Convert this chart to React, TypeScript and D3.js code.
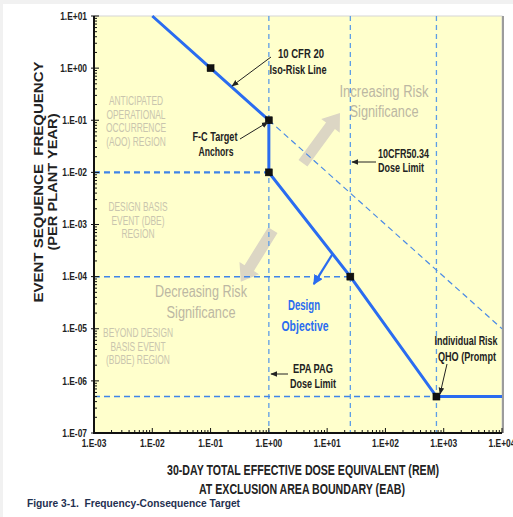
import React from "react";
import * as d3 from "d3";

// frequency-consequence target
const xTickLabels = ["1.E-03", "1.E-02", "1.E-01", "1.E+00", "1.E+01", "1.E+02", "1.E+03", "1.E+04"];
const yTickLabels = ["1.E+01", "1.E+00", "1.E-01", "1.E-02", "1.E-03", "1.E-04", "1.E-05", "1.E-06", "1.E-07"];
const xTickValues = [1e-3, 1e-2, 1e-1, 1, 1e1, 1e2, 1e3, 1e4];
const yTickValues = [1e1, 1, 1e-1, 1e-2, 1e-3, 1e-4, 1e-5, 1e-6, 1e-7];

const targetDose = [0.01, 0.1, 1, 1, 25, 750, 1e4];
const targetFreq = [10, 1, 0.1, 0.01, 1e-4, 5e-7, 5e-7];

const anchorDose = [0.1, 1, 1, 25, 750];
const anchorFreq = [1, 0.1, 0.01, 1e-4, 5e-7];

const isoDose = [1, 1e4];
const isoFreq = [0.1, 1e-5];

const doseLimits = [1, 25, 750];
const freqLimits = [0.01, 1e-4, 5e-7];
const freqLimitEnds = [1, 25, 750];

const sans = "'Liberation Sans', Arial, sans-serif";

const W = 513;
const H = 517;
const x = d3.scaleLog().domain([1e-3, 1e4]).range([94, 502]);
const y = d3.scaleLog().domain([1e-7, 1e1]).range([433, 16]);

const line = d3
  .line<[number, number]>()
  .x((d) => x(d[0]))
  .y((d) => y(d[1]));

function fatArrow(d0: number, f0: number, d1: number, f1: number, shaft: number, head: number, headLen: number) {
  const x0 = x(d0), y0 = y(f0), x1 = x(d1), y1 = y(f1);
  const len = Math.hypot(x1 - x0, y1 - y0);
  const ux = (x1 - x0) / len, uy = (y1 - y0) / len;
  const px = -uy, py = ux;
  const bx = x1 - ux * headLen, by = y1 - uy * headLen;
  const pts = [
    [x0 + px * shaft / 2, y0 + py * shaft / 2],
    [bx + px * shaft / 2, by + py * shaft / 2],
    [bx + px * head / 2, by + py * head / 2],
    [x1, y1],
    [bx - px * head / 2, by - py * head / 2],
    [bx - px * shaft / 2, by - py * shaft / 2],
    [x0 - px * shaft / 2, y0 - py * shaft / 2],
  ];
  return pts.map((p) => p.join(",")).join(" ");
}

// narrow text: Arial Narrow isn't installed, so squeeze Liberation Sans
function T(props: {
  x: number; y: number; children: string; size?: number; bold?: boolean; fill?: string;
  anchor?: string; sx?: number; w?: number; rotate?: number;
}) {
  const { x: tx, y: ty, children, size = 12.5, bold = false, fill = "#222", anchor = "start", sx = 0.82, w, rotate } = props;
  const common = {
    fontFamily: sans,
    fontSize: size,
    fontWeight: bold ? "bold" : "normal",
    fill,
    textAnchor: anchor as any,
    style: { whiteSpace: "pre" as const },
  };
  if (w) {
    return (
      <text {...common} transform={`translate(${tx},${ty})${rotate ? ` rotate(${rotate})` : ""}`} textLength={w} lengthAdjust="spacingAndGlyphs">
        {children}
      </text>
    );
  }
  return (
    <text {...common} transform={`translate(${tx},${ty}) scale(${sx},1)`}>
      {children}
    </text>
  );
}

function Leader({ x1, y1, x2, y2 }: { x1: number; y1: number; x2: number; y2: number }) {
  return <line x1={x1} y1={y1} x2={x2} y2={y2} stroke="#222" strokeWidth={1} markerEnd="url(#arrowHead)" />;
}

export default function App() {
  const minorX: number[] = [];
  for (let e = -3; e < 4; e++) for (let m = 2; m < 10; m++) minorX.push(m * Math.pow(10, e));
  const minorY: number[] = [];
  for (let e = -7; e < 1; e++) for (let m = 2; m < 10; m++) minorY.push(m * Math.pow(10, e));

  const regionColor = "#c9c5ae";
  const sigColor = "#bcb7a3";

  return (
    <svg width={W} height={H} style={{ position: "absolute", left: 0, top: 0 }}>
      <defs>
        <marker id="arrowHead" viewBox="0 0 10 10" refX="9" refY="5" markerWidth="7" markerHeight="7" orient="auto-start-reverse">
          <path d="M0,1 L10,5 L0,9 z" fill="#222" />
        </marker>
        <marker id="blueHead" viewBox="0 0 10 10" refX="9" refY="5" markerWidth="4.5" markerHeight="4.5" orient="auto">
          <path d="M0,0 L10,5 L0,10 z" fill="#2a6cf0" />
        </marker>
      </defs>
      <rect x={0} y={0} width={W} height={H} fill="#f1f1f1" />
      <rect x={3} y={4} width={W - 3} height={H - 4} fill="#ffffff" />

      {/* plot background */}
      <rect x={x(1e-3)} y={y(1e1)} width={x(1e4) - x(1e-3)} height={y(1e-7) - y(1e1)} fill="#ffffcc" stroke="#d6d6d6" strokeWidth={1} />
      <line x1={x(1e4) + 1} x2={x(1e4) + 1} y1={y(1e1)} y2={y(1e-7)} stroke="#9c9c9c" strokeWidth={2} />

      {/* region labels */}
      {["ANTICIPATED", "OPERATIONAL", "OCCURRENCE", "(AOO) REGION"].map((t, i) => (
        <T key={t} x={136} y={105 + i * 13.7} size={12} fill={regionColor} anchor="middle" sx={0.7}>{t}</T>
      ))}
      {["DESIGN BASIS", "EVENT (DBE)", "REGION"].map((t, i) => (
        <T key={t} x={138} y={211 + i * 13.7} size={12} fill={regionColor} anchor="middle" sx={0.7}>{t}</T>
      ))}
      {["BEYOND DESIGN", "BASIS EVENT", "(BDBE) REGION"].map((t, i) => (
        <T key={t} x={138} y={337 + i * 13.7} size={12} fill={regionColor} anchor="middle" sx={0.7}>{t}</T>
      ))}

      <T x={384} y={97} size={16} fill={sigColor} anchor="middle" w={89}>Increasing Risk</T>
      <T x={384} y={117} size={16} fill={sigColor} anchor="middle" w={69}>Significance</T>
      <T x={201} y={297} size={16} fill={sigColor} anchor="middle" w={92}>Decreasing Risk</T>
      <T x={201} y={318} size={16} fill={sigColor} anchor="middle" w={69}>Significance</T>

      {/* significance arrows */}
      <polygon points={fatArrow(3.85, 0.015, 16.6, 0.138, 11, 23, 16)} fill="#dcd6c4" />
      <polygon points={fatArrow(1.17, 7.8e-4, 0.33, 8e-5, 11, 23, 16)} fill="#dcd6c4" />

      {/* dashed limit lines */}
      {doseLimits.map((d) => (
        <line key={"v" + d} x1={x(d)} x2={x(d)} y1={y(1e1)} y2={y(1e-7)} stroke="#5d9de6" strokeWidth={1.3} strokeDasharray="5,4" />
      ))}
      {freqLimits.map((f, i) => (
        <line key={"h" + f} x1={x(1e-3)} x2={x(freqLimitEnds[i])} y1={y(f)} y2={y(f)} stroke="#3f84e8" strokeWidth={i === 0 ? 2.2 : 1.5} strokeDasharray="6,4" />
      ))}
      <path d={line(isoDose.map((d, i) => [d, isoFreq[i]]) as [number, number][]) || ""} fill="none" stroke="#4a8ae6" strokeWidth={1.2} strokeDasharray="6,4" />

      {/* target line */}
      <path d={line(targetDose.map((d, i) => [d, targetFreq[i]]) as [number, number][]) || ""} fill="none" stroke="#2a6cf0" strokeWidth={3} />
      <line x1={x(12.6)} y1={y(2.8e-4)} x2={x(5.9)} y2={y(7.2e-5)} stroke="#2a6cf0" strokeWidth={2.2} markerEnd="url(#blueHead)" />

      {anchorDose.map((d, i) => (
        <rect key={"a" + i} x={x(d) - 3.5} y={y(anchorFreq[i]) - 3.5} width={7} height={7} fill="#111" stroke="#000" strokeWidth={0.5} />
      ))}

      {/* axes */}
      <g stroke="#111">
        {minorX.map((v) => (
          <line key={"mx" + v} x1={x(v)} x2={x(v)} y1={y(1e-7)} y2={y(1e-7) - 3} strokeWidth={1} />
        ))}
        {minorY.map((v) => (
          <line key={"my" + v} x1={x(1e-3)} x2={x(1e-3) + 3} y1={y(v)} y2={y(v)} strokeWidth={1} />
        ))}
        {xTickValues.map((v) => (
          <line key={"tx" + v} x1={x(v)} x2={x(v)} y1={y(1e-7)} y2={y(1e-7) - 5} strokeWidth={1} />
        ))}
        {yTickValues.map((v) => (
          <line key={"ty" + v} x1={x(1e-3) - 3} x2={x(1e-3) + 5} y1={y(v)} y2={y(v)} strokeWidth={1} />
        ))}
        <line x1={x(1e-3)} x2={x(1e-3)} y1={y(1e1)} y2={y(1e-7) + 1} strokeWidth={2} />
        <line x1={x(1e-3) - 1} x2={x(1e4)} y1={y(1e-7)} y2={y(1e-7)} strokeWidth={2} />
      </g>

      {yTickValues.map((v, i) => (
        <T key={"yl" + v} x={x(1e-3) - 7} y={y(v) + 3.7} size={10.5} bold anchor="end" sx={0.8}>{yTickLabels[i]}</T>
      ))}
      {xTickValues.map((v, i) => (
        <T key={"xl" + v} x={x(v)} y={447} size={10.5} bold anchor="middle" sx={0.8}>{xTickLabels[i]}</T>
      ))}

      {/* annotations */}
      <T x={301} y={58} bold anchor="middle" w={46}>10 CFR 20</T>
      <T x={298} y={74} bold anchor="middle" w={57}>Iso-Risk Line</T>
      <T x={215} y={141} bold anchor="middle" w={45}>F-C Target</T>
      <T x={216} y={156} bold anchor="middle" w={35}>Anchors</T>
      <T x={378} y={158} bold w={51}>10CFR50.34</T>
      <T x={378} y={172} bold w={46}>Dose Limit</T>
      <T x={313} y={373} bold anchor="middle" w={40}>EPA PAG</T>
      <T x={313} y={388} bold anchor="middle" w={46}>Dose Limit</T>
      <T x={466} y={345} bold anchor="middle" w={63}>Individual Risk</T>
      <T x={467} y={361} bold anchor="middle" w={58}>QHO (Prompt</T>
      <Leader x1={271} y1={57} x2={232} y2={86} />
      <Leader x1={240} y1={139} x2={268} y2={122} />
      <Leader x1={376} y1={162} x2={352} y2={162} />
      <Leader x1={288} y1={374} x2={271} y2={374} />
      <Leader x1={447} y1={364} x2={440} y2={394} />

      <T x={304} y={310} size={14.5} bold fill="#2a6cf0" anchor="middle" w={32}>Design</T>
      <T x={305} y={331} size={14.5} bold fill="#2a6cf0" anchor="middle" w={47}>Objective</T>

      {/* axis titles */}
      <T x={303} y={475} size={15} bold anchor="middle" w={272}>30-DAY TOTAL EFFECTIVE DOSE EQUIVALENT (REM)</T>
      <T x={302} y={494} size={15} bold anchor="middle" w={206}>AT EXCLUSION AREA BOUNDARY (EAB)</T>
      <T x={43} y={182} size={13} bold anchor="middle" w={241} rotate={-90}>EVENT SEQUENCE  FREQUENCY</T>
      <T x={57} y={182} size={13} bold anchor="middle" w={137} rotate={-90}>(PER PLANT YEAR)</T>

      <T x={27} y={507} size={11.5} bold fill="#1f3050" w={213}>Figure 3-1.  Frequency-Consequence Target</T>
    </svg>
  );
}
